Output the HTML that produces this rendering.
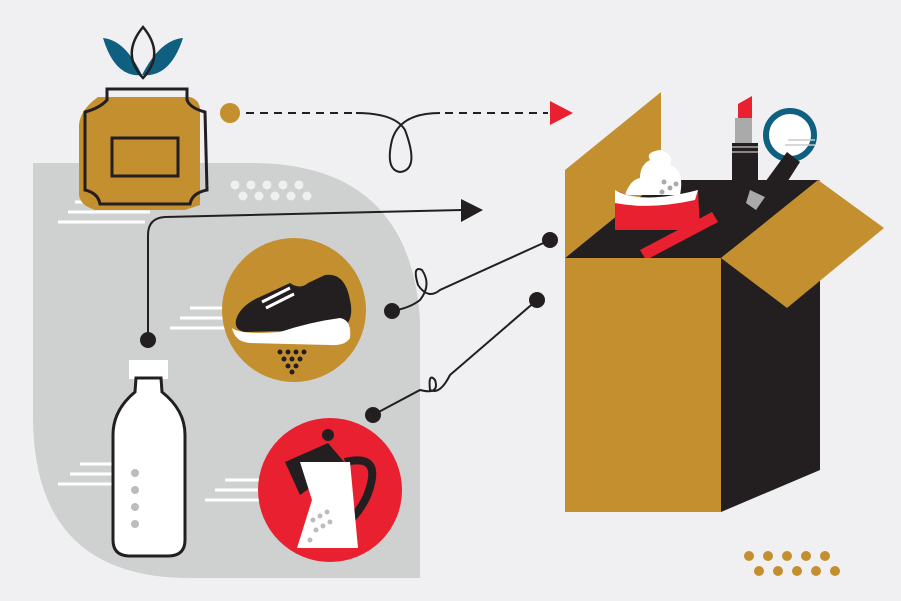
<!DOCTYPE html>
<html><head><style>html,body{margin:0;padding:0;background:#f0f0f2}svg{display:block}</style></head>
<body>
<svg width="901" height="601" viewBox="0 0 901 601" xmlns="http://www.w3.org/2000/svg">
<rect width="901" height="601" fill="#f0f0f2"/>
<!-- gray panel -->
<path d="M33,163 L255,163 Q410,165 420,320 L420,578 L190,578 Q35,578 33,420 Z" fill="#cfd0d0"/>
<!-- white stripes -->
<g stroke="#fff" stroke-width="3">
<line x1="75" y1="202" x2="150" y2="202"/><line x1="68" y1="212" x2="150" y2="212"/><line x1="58" y1="222" x2="145" y2="222"/>
<line x1="190" y1="308" x2="225" y2="308"/><line x1="180" y1="318" x2="225" y2="318"/><line x1="170" y1="328" x2="225" y2="328"/>
<line x1="80" y1="464" x2="120" y2="464"/><line x1="70" y1="474" x2="120" y2="474"/><line x1="58" y1="484" x2="120" y2="484"/>
<line x1="225" y1="480" x2="262" y2="480"/><line x1="215" y1="490" x2="262" y2="490"/><line x1="205" y1="500" x2="262" y2="500"/>
</g>
<!-- perfume -->
<path d="M98,97 L190,97 Q200,100 200,110 L200,205 L185,210 L95,210 Q80,205 79,195 L79,125 Q80,110 98,97 Z" fill="#c48f2e"/>
<path d="M107,89 L187,89 L187,100 Q190,108 205,112 L207,190 Q192,193 190,204 L100,204 Q98,193 85,190 L85,112 Q100,108 107,100 Z" fill="none" stroke="#231f20" stroke-width="3"/>
<rect x="112" y="138" width="66" height="38" fill="none" stroke="#231f20" stroke-width="3"/>
<path d="M103,38 Q125,40 142,75 Q115,78 103,38 Z" fill="#0e5f80"/>
<path d="M183,38 Q160,40 142,75 Q170,78 183,38 Z" fill="#0e5f80"/>
<path d="M143,27 Q128,45 133,62 Q137,72 143,78 Q149,72 153,62 Q158,45 143,27 Z" fill="none" stroke="#231f20" stroke-width="2.5"/>
<!-- dots on gray -->
<g fill="#f0f0f2">
<circle cx="235" cy="185" r="4.5"/><circle cx="251" cy="185" r="4.5"/><circle cx="267" cy="185" r="4.5"/><circle cx="283" cy="185" r="4.5"/><circle cx="299" cy="185" r="4.5"/>
<circle cx="243" cy="196" r="4.5"/><circle cx="259" cy="196" r="4.5"/><circle cx="275" cy="196" r="4.5"/><circle cx="291" cy="196" r="4.5"/><circle cx="307" cy="196" r="4.5"/>
</g>
<!-- dashed connector -->
<circle cx="230" cy="113" r="10" fill="#c48f2e"/>
<line x1="246" y1="113" x2="355" y2="113" stroke="#231f20" stroke-width="2" stroke-dasharray="8,6"/>
<path d="M356,113 Q395,113 405,130 Q420,170 400,172 Q385,170 392,140 Q400,113 440,113" fill="none" stroke="#231f20" stroke-width="2"/>
<line x1="445" y1="113" x2="548" y2="113" stroke="#231f20" stroke-width="2" stroke-dasharray="8,6"/>
<polygon points="550,101 573,113 550,125" fill="#e8202f"/>
<!-- arrow from bottle -->
<path d="M148,335 L148,235 Q148,218 165,217 L462,210" fill="none" stroke="#231f20" stroke-width="2"/>
<polygon points="461,199 483,210 461,222" fill="#231f20"/>
<circle cx="148" cy="340" r="8" fill="#231f20"/>
<!-- sneaker -->
<circle cx="294" cy="310" r="72" fill="#c48f2e"/>
<path d="M236,320 Q240,305 262,296 L290,283 Q300,290 308,283 L325,275 Q345,272 350,300 Q355,322 340,330 L245,332 Q234,330 236,320 Z" fill="#231f20"/>
<path d="M232,328 Q240,335 280,332 Q310,322 340,318 Q352,320 350,338 Q345,346 330,345 L250,343 Q235,342 232,328 Z" fill="#fff"/>
<g stroke="#fff" stroke-width="3"><line x1="262" y1="302" x2="290" y2="288"/><line x1="266" y1="308" x2="294" y2="294"/></g>
<g fill="#231f20">
<circle cx="280" cy="352" r="2.5"/><circle cx="288" cy="352" r="2.5"/><circle cx="296" cy="352" r="2.5"/><circle cx="304" cy="352" r="2.5"/>
<circle cx="284" cy="359" r="2.5"/><circle cx="292" cy="359" r="2.5"/><circle cx="300" cy="359" r="2.5"/>
<circle cx="288" cy="366" r="2.5"/><circle cx="296" cy="366" r="2.5"/><circle cx="292" cy="372" r="2.5"/>
</g>
<!-- bottle -->
<rect x="129" y="360" width="39" height="19" fill="#fff"/>
<path d="M136,378 L161,378 L162,392 Q185,410 185,435 L185,540 Q185,556 168,556 L130,556 Q113,556 113,540 L113,435 Q113,410 135,392 Z" fill="#fff" stroke="#231f20" stroke-width="3"/>
<g fill="#bcbcbc"><circle cx="135" cy="473" r="4"/><circle cx="135" cy="490" r="4"/><circle cx="135" cy="507" r="4"/><circle cx="135" cy="524" r="4"/></g>
<!-- coffee pot -->
<circle cx="330" cy="490" r="72" fill="#e8202f"/>
<circle cx="328" cy="435" r="6" fill="#231f20"/>
<polygon points="328,443 285,462 300,495 345,463" fill="#231f20"/>
<path d="M345,462 Q375,455 372,478 Q368,505 345,525" fill="none" stroke="#231f20" stroke-width="8"/>
<polygon points="300,462 350,462 358,548 297,548 312,500" fill="#fff"/>
<g fill="#bcbcbc"><circle cx="313" cy="520" r="2.5"/><circle cx="320" cy="516" r="2.5"/><circle cx="327" cy="512" r="2.5"/><circle cx="316" cy="530" r="2.5"/><circle cx="323" cy="526" r="2.5"/><circle cx="330" cy="522" r="2.5"/><circle cx="310" cy="540" r="2.5"/></g>
<!-- connectors to box -->
<path d="M392,311 Q410,308 420,300 Q432,285 422,270 Q412,265 418,285 Q428,300 440,290 L550,240" fill="none" stroke="#231f20" stroke-width="2"/>
<circle cx="392" cy="311" r="8" fill="#231f20"/><circle cx="550" cy="240" r="8" fill="#231f20"/>
<path d="M373,415 L420,390 Q440,395 435,380 Q428,372 430,390 Q440,395 450,375 L537,300" fill="none" stroke="#231f20" stroke-width="2"/>
<circle cx="373" cy="415" r="8" fill="#231f20"/><circle cx="537" cy="300" r="8" fill="#231f20"/>
<!-- box -->
<polygon points="565,258 660,180 820,180 721,258" fill="#231f20"/>
<polygon points="565,170 661,92 661,180 565,258" fill="#c48f2e"/>
<!-- lipstick -->
<polygon points="738,118 738,104 752,96 752,118" fill="#e8202f"/>
<rect x="735" y="118" width="17" height="25" fill="#aaa"/>
<rect x="732" y="143" width="26" height="100" fill="#231f20"/>
<g stroke="#aaa" stroke-width="1.5"><line x1="732" y1="147" x2="758" y2="147"/><line x1="732" y1="152" x2="758" y2="152"/></g>
<!-- mirror -->
<circle cx="790" cy="135" r="24" fill="#fff" stroke="#0e5f80" stroke-width="6"/>
<g stroke="#ccc" stroke-width="1.5"><line x1="788" y1="140" x2="815" y2="140"/><line x1="785" y1="145" x2="815" y2="145"/></g>
<polygon points="787,152 800,162 768,212 752,200" fill="#231f20"/>
<polygon points="750,190 765,197 756,210 746,203" fill="#aaa"/>
<!-- cream jar -->
<path d="M625,195 Q630,180 640,178 Q640,165 650,160 Q645,152 660,150 Q675,155 670,165 Q685,170 680,195 Z" fill="#fff"/>
<polygon points="615,190 640,200 670,198 698,190 700,230 615,230" fill="#e8202f"/>
<path d="M615,190 Q640,205 698,190 L695,200 Q650,210 615,203 Z" fill="#fff"/>
<polygon points="640,250 712,212 718,222 646,260" fill="#e8202f"/>
<g fill="#aaa"><circle cx="664" cy="182" r="2.5"/><circle cx="670" cy="188" r="2.5"/><circle cx="662" cy="192" r="2.5"/><circle cx="676" cy="184" r="2.5"/></g>
<polygon points="721,258 820,188 820,470 721,512" fill="#231f20"/>
<rect x="565" y="258" width="156" height="254" fill="#c48f2e"/>
<polygon points="721,258 818,180 884,228 787,308" fill="#c48f2e"/>
<!-- gold dots -->
<g fill="#c48f2e">
<circle cx="749" cy="556" r="5"/><circle cx="768" cy="556" r="5"/><circle cx="787" cy="556" r="5"/><circle cx="806" cy="556" r="5"/><circle cx="825" cy="556" r="5"/>
<circle cx="759" cy="571" r="5"/><circle cx="778" cy="571" r="5"/><circle cx="797" cy="571" r="5"/><circle cx="816" cy="571" r="5"/><circle cx="835" cy="571" r="5"/>
</g>
</svg>
</body></html>
